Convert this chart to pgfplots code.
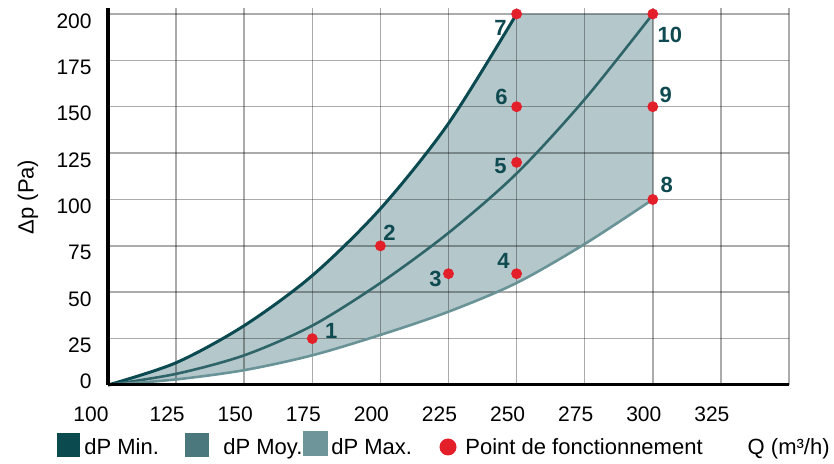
\documentclass[border=0pt]{standalone}
\usepackage{fontspec}
\setmainfont{Liberation Sans}
\usepackage{pgfplots}
\pgfplotsset{compat=1.18}
\usepgfplotslibrary{fillbetween}
\definecolor{cmin}{HTML}{0B4A50}
\definecolor{cmoy}{HTML}{2F6569}
\definecolor{cmax}{HTML}{6A9397}
\definecolor{cfill}{HTML}{B4C8CC}
\definecolor{csqa}{HTML}{0B4B50}
\definecolor{csqb}{HTML}{4A787C}
\definecolor{csqc}{HTML}{6E9599}
\definecolor{clbl}{HTML}{0E4A50}
\definecolor{cred}{HTML}{E3202A}
\pgfplotsset{
  layers/mylayers/.define layer set={axis background,pre main,axis grid,axis ticks,main,axis lines,axis tick labels,axis descriptions,axis foreground}{/pgfplots/layers/standard},
}
\tikzset{lbl/.style={font=\fontsize{11}{12}\selectfont\bfseries, text=clbl, inner sep=0pt}}
\tikzset{leg/.style={anchor=base west, inner sep=0pt, font=\fontsize{11}{13}\selectfont}}
\begin{document}
\begin{tikzpicture}
\begin{axis}[
  at={(0,0)}, anchor=south west,
  scale only axis, width=340.5pt, height=188.3pt,
  xmin=100, xmax=350, ymin=0, ymax=203,
  set layers=mylayers,
  axis x line*=bottom, axis y line*=left,
  axis line style={line width=1.5pt, black, -},
  xtick={125,150,...,350},
  xticklabels={125,150,175,200,225,250,275,300,325,{}},
  extra x ticks={100}, extra x tick labels={100},
  extra x tick style={xticklabel style={xshift=-4pt}},
  ytick={25,50,...,200},
  extra y ticks={0}, extra y tick labels={0},
  extra y tick style={yticklabel style={yshift=5.5pt}},
  major tick length=0pt,
  grid=major,
  grid style={black, opacity=0.33, line width=0.75pt},
  tick label style={font=\fontsize{10.5}{12}\selectfont},
  /pgf/number format/assume math mode=true,
  xticklabel style={anchor=base, yshift=-18.25pt, xshift=-4.5pt, inner sep=0pt},
  yticklabel style={anchor=east, xshift=-8pt, yshift=-3.5pt, inner sep=0pt},
  clip=false,
]
\addplot[smooth, line width=1.5pt, color=cmin, name path=min] coordinates {
  (100,0) (125,12) (150,32) (175,59) (200,95) (225,141) (250,200)};
\addplot[smooth, line width=1.3pt, color=cmoy] coordinates {
  (100,0) (125,6) (150,16) (175,32) (200,55) (225,82) (250,114) (275,154) (300,200)};
\addplot[smooth, line width=1.3pt, color=cmax, name path=max] coordinates {
  (100,0) (125,3) (150,8) (175,16) (200,27) (225,39.5) (250,55) (275,76) (300,100)};
\addplot[fill=cfill, draw=none] fill between[of=min and max];
\addplot[fill=cfill, draw=cfill, line width=0.3pt, on layer=pre main] coordinates {
  (250,200) (300,200) (300,100) (250,200)};
\addplot[only marks, mark=*, mark size=2.5pt, color=cred, mark options={draw=cred, fill=cred}] coordinates {
  (175,25) (200,75) (225,60) (250,60) (250,120) (250,150) (250,200) (300,100) (300,150) (300,200)};
\node[lbl, xshift=9.5pt, yshift=4pt] at (axis cs:175,25) {1};
\node[lbl, xshift=4.5pt, yshift=6.5pt] at (axis cs:200,75) {2};
\node[lbl, xshift=-6.5pt, yshift=-2.5pt] at (axis cs:225,60) {3};
\node[lbl, xshift=-6.5pt, yshift=6.5pt] at (axis cs:250,60) {4};
\node[lbl, xshift=-8pt, yshift=-2pt] at (axis cs:250,120) {5};
\node[lbl, xshift=-7.5pt, yshift=5pt] at (axis cs:250,150) {6};
\node[lbl, xshift=-8pt, yshift=-7pt] at (axis cs:250,200) {7};
\node[lbl, xshift=7pt, yshift=7.5pt] at (axis cs:300,100) {8};
\node[lbl, xshift=6.5pt, yshift=6pt] at (axis cs:300,150) {9};
\node[lbl, xshift=8.5pt, yshift=-10.5pt] at (axis cs:300,200) {10};
\end{axis}
\node[rotate=90, inner sep=0pt, font=\fontsize{11}{12}\selectfont] at (-40pt,94pt) {Δp (Pa)};
\fill[csqa] (-25.5pt,-24pt) rectangle (-14pt,-36pt);
\node[leg] at (-12pt,-35pt) {dP Min.};
\fill[csqb] (38.5pt,-24pt) rectangle (50.5pt,-36pt);
\node[leg] at (57.5pt,-35pt) {dP Moy.};
\fill[csqc] (97.5pt,-23pt) rectangle (110pt,-35.5pt);
\node[leg] at (111.5pt,-35pt) {dP Max.};
\fill[cred] (170pt,-31pt) circle (4.25pt);
\node[leg] at (178.5pt,-35pt) {Point de fonctionnement};
\node[leg, anchor=base east] at (361pt,-35pt) {Q (m³/h)};
\pgfresetboundingbox
\path[use as bounding box] (-54pt,-39.5pt) rectangle (363pt,192.5pt);
\end{tikzpicture}
\end{document}
